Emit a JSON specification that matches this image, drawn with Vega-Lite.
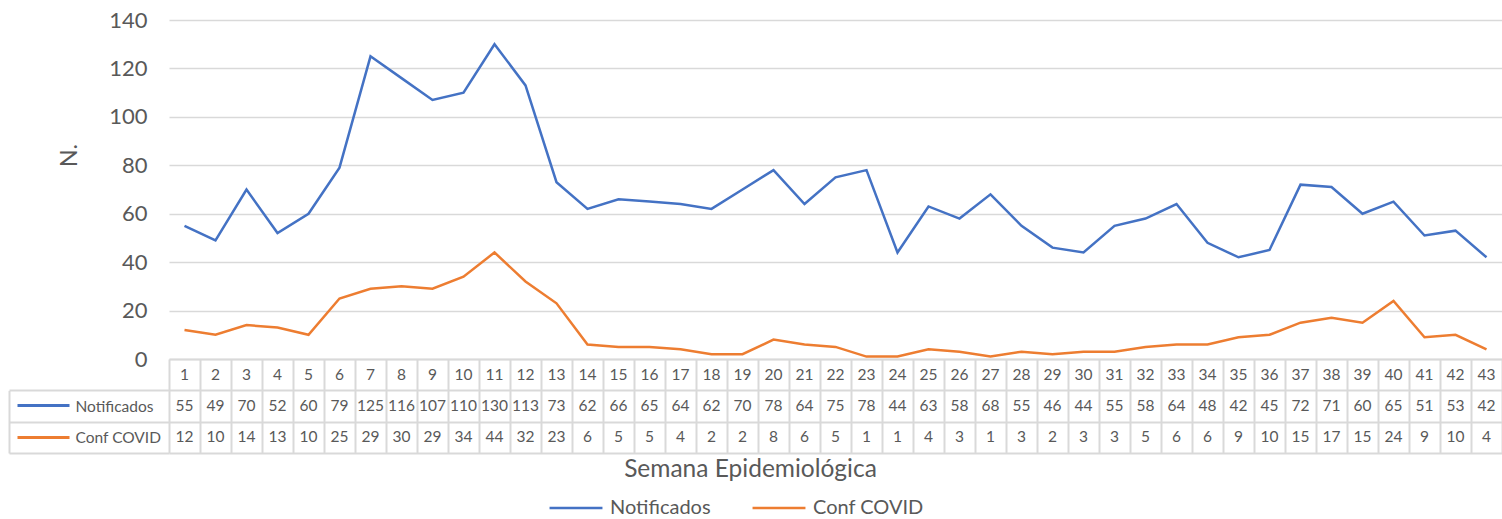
{
  "$schema": "https://vega.github.io/schema/vega-lite/v6.json",
  "background": "white",
  "autosize": {"type": "pad"},
  "padding": {"left": 8, "top": 9, "right": 0, "bottom": 0},
  "config": {
    "font": "Lato",
    "view": {"stroke": null},
    "axis": {"titleFontWeight": "normal", "titleColor": "#595959", "labelColor": "#595959"}
  },
  "data": {
    "values": [
      {"week": 1, "Notificados": 55, "Conf COVID": 12},
      {"week": 2, "Notificados": 49, "Conf COVID": 10},
      {"week": 3, "Notificados": 70, "Conf COVID": 14},
      {"week": 4, "Notificados": 52, "Conf COVID": 13},
      {"week": 5, "Notificados": 60, "Conf COVID": 10},
      {"week": 6, "Notificados": 79, "Conf COVID": 25},
      {"week": 7, "Notificados": 125, "Conf COVID": 29},
      {"week": 8, "Notificados": 116, "Conf COVID": 30},
      {"week": 9, "Notificados": 107, "Conf COVID": 29},
      {"week": 10, "Notificados": 110, "Conf COVID": 34},
      {"week": 11, "Notificados": 130, "Conf COVID": 44},
      {"week": 12, "Notificados": 113, "Conf COVID": 32},
      {"week": 13, "Notificados": 73, "Conf COVID": 23},
      {"week": 14, "Notificados": 62, "Conf COVID": 6},
      {"week": 15, "Notificados": 66, "Conf COVID": 5},
      {"week": 16, "Notificados": 65, "Conf COVID": 5},
      {"week": 17, "Notificados": 64, "Conf COVID": 4},
      {"week": 18, "Notificados": 62, "Conf COVID": 2},
      {"week": 19, "Notificados": 70, "Conf COVID": 2},
      {"week": 20, "Notificados": 78, "Conf COVID": 8},
      {"week": 21, "Notificados": 64, "Conf COVID": 6},
      {"week": 22, "Notificados": 75, "Conf COVID": 5},
      {"week": 23, "Notificados": 78, "Conf COVID": 1},
      {"week": 24, "Notificados": 44, "Conf COVID": 1},
      {"week": 25, "Notificados": 63, "Conf COVID": 4},
      {"week": 26, "Notificados": 58, "Conf COVID": 3},
      {"week": 27, "Notificados": 68, "Conf COVID": 1},
      {"week": 28, "Notificados": 55, "Conf COVID": 3},
      {"week": 29, "Notificados": 46, "Conf COVID": 2},
      {"week": 30, "Notificados": 44, "Conf COVID": 3},
      {"week": 31, "Notificados": 55, "Conf COVID": 3},
      {"week": 32, "Notificados": 58, "Conf COVID": 5},
      {"week": 33, "Notificados": 64, "Conf COVID": 6},
      {"week": 34, "Notificados": 48, "Conf COVID": 6},
      {"week": 35, "Notificados": 42, "Conf COVID": 9},
      {"week": 36, "Notificados": 45, "Conf COVID": 10},
      {"week": 37, "Notificados": 72, "Conf COVID": 15},
      {"week": 38, "Notificados": 71, "Conf COVID": 17},
      {"week": 39, "Notificados": 60, "Conf COVID": 15},
      {"week": 40, "Notificados": 65, "Conf COVID": 24},
      {"week": 41, "Notificados": 51, "Conf COVID": 9},
      {"week": 42, "Notificados": 53, "Conf COVID": 10},
      {"week": 43, "Notificados": 42, "Conf COVID": 4}
    ]
  },
  "bounds": "flush",
  "spacing": 0,
  "resolve": {"scale": {"x": "independent", "y": "independent"}},
  "vconcat": [
    {
      "width": 1333,
      "height": 339,
      "transform": [{"fold": ["Notificados", "Conf COVID"], "as": ["serie", "valor"]}],
      "mark": {"type": "line", "strokeWidth": 2.5},
      "encoding": {
        "x": {"field": "week", "type": "ordinal", "scale": {"type": "point", "padding": 0.5}, "axis": null},
        "y": {
          "field": "valor", "type": "quantitative",
          "scale": {"domain": [0, 140]},
          "axis": {
            "values": [0, 20, 40, 60, 80, 100, 120, 140],
            "title": "N.", "titleFontSize": 23, "titlePadding": 27, "titleY": 135,
            "grid": true, "gridColor": "#d9d9d9", "gridWidth": 1.5,
            "domain": false, "ticks": false,
            "labelFontSize": 22, "labelPadding": 22
          }
        },
        "color": {
          "field": "serie", "type": "nominal",
          "scale": {"domain": ["Notificados", "Conf COVID"], "range": ["#4472C4", "#ED7D31"]},
          "legend": {
            "title": null, "orient": "none", "direction": "horizontal",
            "legendX": 379, "legendY": 460,
            "symbolType": "stroke", "symbolSize": 2800, "symbolStrokeWidth": 2.5,
            "labelFontSize": 20, "labelColor": "#595959", "labelOffset": 6,
            "columnPadding": 36
          }
        }
      }
    },
    {
      "width": 1333,
      "height": 94,
      "encoding": {
        "x": {
          "field": "week", "type": "ordinal",
          "scale": {"type": "band", "paddingInner": 0, "paddingOuter": 0},
          "axis": {
            "title": "Semana Epidemiológica", "titleFontSize": 24.5, "titlePadding": 4, "titleX": 581,
            "labels": false, "ticks": false, "domain": false,
            "grid": true, "tickBand": "extent", "gridColor": "#d9d9d9", "gridWidth": 2
          }
        }
      },
      "resolve": {"scale": {"y": "independent"}, "axis": {"y": "independent"}},
      "layer": [
        {
          "mark": {"type": "text", "fontSize": 15.5, "color": "#595959"},
          "encoding": {
            "y": {
              "datum": "Semana", "type": "ordinal",
              "scale": {"type": "band", "domain": ["Semana", "Notificados", "Conf COVID"], "paddingInner": 0, "paddingOuter": 0},
              "axis": {
                "orient": "left", "title": null,
                "grid": true, "tickBand": "extent", "gridColor": "#d9d9d9", "gridWidth": 2,
                "ticks": false, "domain": false,
                "labelExpr": "datum.value == 'Semana' ? '' : datum.value",
                "labelFontSize": 15.5, "labelAlign": "left", "labelPadding": 94
              }
            },
            "text": {"field": "week", "type": "nominal"}
          }
        },
        {
          "transform": [{"fold": ["Notificados"], "as": ["serie", "valor"]}],
          "mark": {"type": "text", "fontSize": 15.5, "color": "#595959"},
          "encoding": {
            "y": {
              "field": "serie", "type": "ordinal",
              "scale": {"type": "band", "domain": ["Notificados", "Conf COVID"], "range": [31.33, 94], "paddingInner": 0, "paddingOuter": 0},
              "axis": {
                "orient": "left", "title": null, "offset": 100,
                "labels": false, "domain": false, "grid": false,
                "ticks": true, "tickSize": 52, "tickWidth": 3,
                "tickColor": {"condition": {"test": "datum.value === 'Notificados'", "value": "#4472C4"}, "value": "#ED7D31"}
              }
            },
            "text": {"field": "valor", "type": "nominal"}
          }
        },
        {
          "transform": [{"fold": ["Conf COVID"], "as": ["serie", "valor"]}],
          "mark": {"type": "text", "fontSize": 15.5, "color": "#595959"},
          "encoding": {
            "y": {
              "field": "serie", "type": "ordinal",
              "scale": {"type": "band", "domain": ["Notificados", "Conf COVID"], "range": [31.33, 94], "paddingInner": 0, "paddingOuter": 0},
              "axis": {
                "orient": "left", "title": null, "offset": 160,
                "labels": false, "grid": false,
                "domain": true, "domainColor": "#d9d9d9", "domainWidth": 2,
                "ticks": true, "tickBand": "extent", "tickSize": -160, "tickWidth": 2, "tickColor": "#d9d9d9"
              }
            },
            "text": {"field": "valor", "type": "nominal"}
          }
        }
      ]
    }
  ]
}
